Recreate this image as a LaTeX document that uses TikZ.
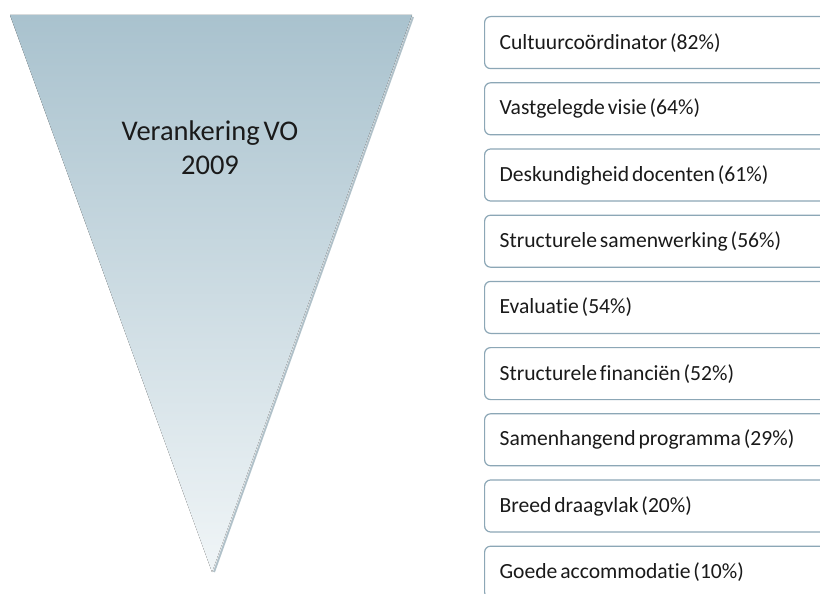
\documentclass[tikz,border=0pt]{standalone}
\usepackage{fontspec}
\setmainfont{Carlito}[Ligatures=NoCommon,WordSpace={0.6,0,0}]
\usepackage{tikz}
\usetikzlibrary{positioning}
\definecolor{funneltop}{HTML}{A9C2CE}
\definecolor{funnelbot}{HTML}{F0F5F7}
\definecolor{funnelshade}{HTML}{7F99A6}
\definecolor{boxline}{HTML}{8CA7B6}
\definecolor{ink}{HTML}{1A1A1A}

\begin{document}
\begin{tikzpicture}[x=1pt,y=-1pt,
  factor/.style={rounded corners=6pt,draw=boxline,fill=white,line width=1.2pt,minimum height=52pt,text width=330pt,inner xsep=15pt,align=flush left,anchor=north west,text=ink,font=\fontsize{21.6}{25}\selectfont},
  label/.style={align=center,text=ink,font=\fontsize{28.5}{34}\selectfont}
]
\useasboundingbox (0,0) rectangle (820,594);
\clip (0,0) rectangle (820,594);
\fill[white] (0,0) rectangle (820,594);
% funnel
\draw[funnelshade!60,line width=2pt] (413,17) -- (214,572);
\fill[top color=funneltop,bottom color=funnelbot] (10,15) -- (412,15) -- (212,572) -- cycle;
\node[label] (title) at (210,148) {Verankering VO\\2009};
% factors
\node[factor] (f1) at (484,16) {Cultuurcoördinator (82\%)};
\node[factor,below=13pt of f1] (f2) {Vastgelegde visie (64\%)};
\node[factor,below=13pt of f2] (f3) {Deskundigheid docenten (61\%)};
\node[factor,below=13pt of f3] (f4) {Structurele samenwerking (56\%)};
\node[factor,below=13pt of f4] (f5) {Evaluatie (54\%)};
\node[factor,below=13pt of f5] (f6) {Structurele financiën (52\%)};
\node[factor,below=13pt of f6] (f7) {Samenhangend programma (29\%)};
\node[factor,below=13pt of f7] (f8) {Breed draagvlak (20\%)};
\node[factor,below=13pt of f8] (f9) {Goede accommodatie (10\%)};
\end{tikzpicture}
\end{document}
